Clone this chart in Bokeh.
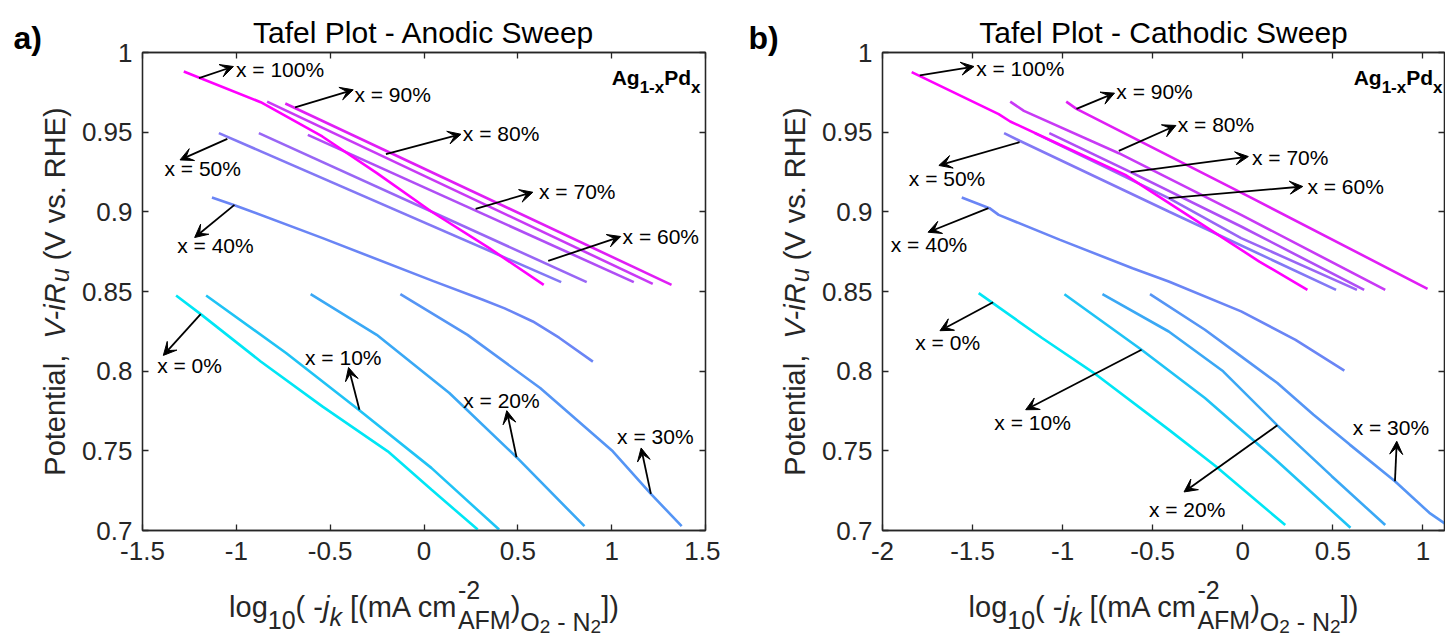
import math
from bokeh.plotting import figure
from bokeh.models import ColumnDataSource, Arrow, VeeHead, Label, LinearAxis, FixedTicker
from bokeh.layouts import row, column
from bokeh.embed import file_html
from bokeh.resources import INLINE
from bokeh.core.properties import value

# ---------------- data ----------------
compositions = ["x = 0%", "x = 10%", "x = 20%", "x = 30%", "x = 40%", "x = 50%",
                "x = 60%", "x = 70%", "x = 80%", "x = 90%", "x = 100%"]
series_colors = ["#00E6F5", "#1FC3F5", "#3AA8F5", "#5595F5", "#6A85F5", "#8378F5",
                 "#9966F5", "#B04EF5", "#C83AF5", "#E01EF5", "#FF00FF"]

y_ticks = [0.7, 0.75, 0.8, 0.85, 0.9, 0.95, 1.0]
y_tick_labels = ["0.7", "0.75", "0.8", "0.85", "0.9", "0.95", "1"]
a_x_ticks = [-1.5, -1.0, -0.5, 0.0, 0.5, 1.0, 1.5]
a_x_tick_labels = ["-1.5", "-1", "-0.5", "0", "0.5", "1", "1.5"]
b_x_ticks = [-2.0, -1.5, -1.0, -0.5, 0.0, 0.5, 1.0]
b_x_tick_labels = ["-2", "-1.5", "-1", "-0.5", "0", "0.5", "1"]

# Anodic sweep (panel a)
a00_x = [-1.321, -1.190, -0.870, -0.542, -0.193, 0.039, 0.286]
a00_y = [0.8475, 0.8358, 0.8061, 0.7779, 0.7497, 0.7257, 0.7006]
a10_x = [-1.161, -0.735, -0.348, 0.039, 0.400]
a10_y = [0.8475, 0.8114, 0.7758, 0.7393, 0.7006]
a20_x = [-0.604, -0.252, 0.135, 0.493, 0.855]
a20_y = [0.8483, 0.8228, 0.7863, 0.7460, 0.7027]
a30_x = [-0.126, 0.232, 0.619, 1.006, 1.209, 1.373]
a30_y = [0.8483, 0.8228, 0.7894, 0.7497, 0.7230, 0.7027]
a40_x = [-1.13, -1.006, -0.54, 0.05, 0.31, 0.43, 0.58, 0.72, 0.90]
a40_y = [0.909, 0.904, 0.8835, 0.8565, 0.845, 0.8394, 0.8312, 0.821, 0.806]
a50_x = [-1.093, 0.731]
a50_y = [0.9494, 0.8559]
a60_x = [-0.880, 0.867]
a60_y = [0.9494, 0.8559]
a70_x = [-0.619, 1.118]
a70_y = [0.9483, 0.8559]
a80_x = [-0.836, 1.219]
a80_y = [0.9692, 0.8548]
a90_x = [-0.739, 1.319]
a90_y = [0.9680, 0.8542]
a100_x = [-1.280, -0.870, -0.542, -0.251, 0.039, 0.348, 0.638]
a100_y = [0.9881, 0.9688, 0.9473, 0.9243, 0.9002, 0.8772, 0.8542]

# Cathodic sweep (panel b)
b00_x = [-1.466, -1.114, -0.813, -0.411, -0.150, 0.236]
b00_y = [0.849, 0.8208, 0.7978, 0.7633, 0.7403, 0.7034]
b10_x = [-0.990, -0.562, -0.210, 0.192, 0.598]
b10_y = [0.8483, 0.8134, 0.7832, 0.7435, 0.7017]
b20_x = [-0.779, -0.411, -0.109, 0.192, 0.494, 0.791]
b20_y = [0.8483, 0.8249, 0.7999, 0.7660, 0.7341, 0.7034]
b30_x = [-0.515, -0.210, -0.009, 0.192, 0.393, 0.594, 0.845, 1.036, 1.13]
b30_y = [0.8483, 0.826, 0.8093, 0.7926, 0.7727, 0.7539, 0.7309, 0.7111, 0.7038]
b40_x = [-1.560, -1.406, -1.355, -1.014, -0.612, -0.411, -0.009, 0.293, 0.564]
b40_y = [0.909, 0.9023, 0.8981, 0.8824, 0.8646, 0.8563, 0.8375, 0.8197, 0.8003]
b50_x = [-1.325, -1.239, -0.411, 0.518]
b50_y = [0.9494, 0.9446, 0.9002, 0.851]
b60_x = [-1.154, -0.752, -0.411, -0.009, 0.634]
b60_y = [0.9494, 0.9274, 0.9086, 0.8835, 0.851]
b70_x = [-1.074, -0.622, -0.009, 0.674]
b70_y = [0.9494, 0.9249, 0.8908, 0.851]
b80_x = [-1.291, -1.215, -0.688, -0.009, 0.791]
b80_y = [0.9692, 0.9634, 0.9368, 0.8981, 0.851]
b90_x = [-0.980, -0.923, 0.051, 1.026]
b90_y = [0.9692, 0.9646, 0.9086, 0.8517]
b100_x = [-1.838, -1.355, -1.291, -1.014, -0.652, -0.25, 0.092, 0.359]
b100_y = [0.9877, 0.9613, 0.9567, 0.9421, 0.9232, 0.8939, 0.8688, 0.851]

# Annotations: arrow tail (on curve) -> head, and label anchor (left, middle)
a_arrow_x0 = [-1.190, -0.344, 0.493, 1.209, -1.010, -1.048, 0.662, 0.275, -0.203, -0.687, -1.199]
a_arrow_y0 = [0.8358, 0.7758, 0.746, 0.723, 0.9044, 0.9458, 0.8692, 0.9019, 0.9362, 0.9655, 0.9839]
a_arrow_x1 = [-1.389, -0.402, 0.441, 1.157, -1.222, -1.300, 1.048, 0.580, 0.197, -0.377, -1.0155]
a_arrow_y1 = [0.8099, 0.8023, 0.7752, 0.7518, 0.8839, 0.9326, 0.8845, 0.9123, 0.9487, 0.9766, 0.9912]
a_label_x = [-1.422, -0.634, 0.209, 1.029, -1.315, -1.383, 1.058, 0.613, 0.207, -0.371, -1.002]
a_label_y = [0.8036, 0.8086, 0.7815, 0.7589, 0.8789, 0.927, 0.8845, 0.9128, 0.9494, 0.9739, 0.9891]

b_arrow_x0 = [-1.386, -0.562, 0.192, 0.845, -1.412, -1.239, -0.411, -0.622, -0.688, -0.923, -1.793]
b_arrow_y0 = [0.8433, 0.8134, 0.766, 0.7309, 0.9023, 0.9437, 0.9086, 0.9249, 0.9383, 0.9646, 0.9856]
b_arrow_x1 = [-1.681, -1.205, -0.326, 0.855, -1.747, -1.687, 0.333, 0.031, -0.371, -0.712, -1.492]
b_arrow_y1 = [0.8254, 0.7758, 0.7242, 0.756, 0.8872, 0.9291, 0.9159, 0.9347, 0.9542, 0.9745, 0.9912]
b_label_x = [-1.818, -1.379, -0.521, 0.610, -1.954, -1.854, 0.359, 0.051, -0.361, -0.702, -1.480]
b_label_y = [0.8182, 0.7675, 0.7132, 0.7644, 0.8793, 0.9207, 0.9159, 0.9341, 0.9546, 0.9755, 0.9902]

anodic_x = [a00_x, a10_x, a20_x, a30_x, a40_x, a50_x, a60_x, a70_x, a80_x, a90_x, a100_x]
anodic_y = [a00_y, a10_y, a20_y, a30_y, a40_y, a50_y, a60_y, a70_y, a80_y, a90_y, a100_y]
cathodic_x = [b00_x, b10_x, b20_x, b30_x, b40_x, b50_x, b60_x, b70_x, b80_x, b90_x, b100_x]
cathodic_y = [b00_y, b10_y, b20_y, b30_y, b40_y, b50_y, b60_y, b70_y, b80_y, b90_y, b100_y]

# ---------------- styling helpers ----------------
FONT = "Liberation Sans"
AX = "#262626"
W_REG = {' ': 278, '(': 333, ')': 333, '[': 278, ']': 278, '-': 333, 'l': 222, 'o': 556,
         'g': 556, '1': 556, '0': 556, '2': 556, 'j': 222, 'k': 500, 'm': 833, 'A': 667,
         'c': 500, 'F': 611, 'M': 833, 'O': 778, 'N': 722, 'V': 667, 'i': 222, 'R': 722,
         'u': 556, 'v': 500, 's': 500, '.': 278, 'H': 722, 'E': 667, 'P': 667, 't': 278,
         'e': 556, 'n': 556, 'a': 556, ',': 278, 'x': 500, 'd': 556}
W_BOLD = {'A': 722, 'g': 611, '1': 556, '-': 333, 'x': 556, 'P': 667, 'd': 611, 'a': 556,
          ')': 333, 'b': 611, ' ': 278}
W_PAGE, H = 1445, 636
FH = 478          # plot frame height
TOP = 52          # space above frame
BOT = 42          # space below frame inside the main figure
MAIN_H = TOP + FH + BOT
BOTTOM_H = H - MAIN_H


def tw(s, size, bold=False):
    table = W_BOLD if bold else W_REG
    return sum(table.get(ch, 556) for ch in s) * size / 1000.0


def run_width(pieces):
    return sum(tw(t, s, "bold" in st) for t, s, st, sh, adv in pieces if adv)


def make_label(p, x, y, text, size, style, color, angle=0.0, units="data"):
    p.add_layout(Label(x=x, y=y, x_units=units, y_units=units, text=text,
                       text_font=FONT, text_font_size=f"{size}px", text_color=color,
                       text_align="left", text_baseline="alphabetic", angle=angle,
                       text_font_style=style if style else "normal"))


def add_run(p, pieces, x0, y0, rotate=False, color=AX, units="data"):
    pos = 0.0
    for text, size, style, shift, adv in pieces:
        bold = "bold" in style
        lead = len(text) - len(text.lstrip(" "))
        body = text.strip(" ")
        off = pos + tw(text[:lead], size, bold)
        if body:
            if rotate:
                make_label(p, x0 - shift, y0 + off, body, size, style, color,
                           angle=math.pi / 2, units=units)
            else:
                make_label(p, x0 + off, y0 + shift, body, size, style, color, units=units)
        if adv:
            pos += tw(text, size, bold)


BASE, SUB, SUBSUB = 29, 25, 19
xlabel_pieces = [
    ("log", BASE, "", 0, True), ("10", SUB, "", -13, True), ("( -", BASE, "", 0, True),
    ("j", BASE, "italic", 0, True), ("k", SUB, "italic", -10, True),
    (" [(mA cm", BASE, "", 0, True), ("-2", SUB, "", 17, False), ("AFM", SUB, "", -13, True),
    (")", BASE, "", 0, True), ("O", SUB, "", -15, True), ("2", SUBSUB, "", -20, True),
    (" - N", SUB, "", -15, True), ("2", SUBSUB, "", -20, True), ("])", BASE, "", 0, True),
]
ylabel_pieces = [
    ("Potential,  ", BASE, "", 0, True), ("V-iR", BASE, "italic", 0, True),
    ("u", SUB, "italic", -5, True), (" (V vs. RHE)", BASE, "", 0, True),
]
alloy_pieces = [
    ("Ag", 21, "bold", 0, True), ("1-x", 17, "bold", -10, True),
    ("Pd", 21, "bold", 0, True), ("x", 17, "bold", -10, True),
]


def text_canvas(w, h):
    t = figure(width=w, height=h, x_range=(0, w), y_range=(0, h), output_backend="svg",
               toolbar_location=None, x_axis_type=None, y_axis_type=None, title=None,
               min_border=0, min_border_left=0, min_border_right=0, min_border_top=0,
               min_border_bottom=0, outline_line_color=None, background_fill_color="white",
               border_fill_color="white")
    t.grid.visible = False
    return t


def make_main(title, xr, xticks, xlabels, fw, left, right, xs, ys,
              ax0, ay0, ax1, ay1, lx, ly, alloy_pad):
    p = figure(width=left + fw + right, height=MAIN_H, x_range=xr, y_range=(0.7, 1.0),
               output_backend="svg", toolbar_location=None,
               min_border_left=left, min_border_right=right, min_border_top=TOP,
               min_border_bottom=BOT, background_fill_color="white",
               border_fill_color="white", outline_line_color=AX, outline_line_width=1.3)
    p.title.text = title
    p.title.align = "center"
    p.title.text_font = FONT
    p.title.text_font_size = "30px"
    p.title.text_font_style = "normal"
    p.title.text_color = "black"
    p.title.standoff = 7
    p.grid.visible = False
    p.xaxis.ticker = FixedTicker(ticks=xticks)
    p.xaxis.major_label_overrides = dict(zip(xticks, xlabels))
    p.yaxis.ticker = FixedTicker(ticks=y_ticks)
    p.yaxis.major_label_overrides = dict(zip(y_ticks, y_tick_labels))
    for ax in (p.xaxis[0], p.yaxis[0]):
        ax.major_tick_in = 6
        ax.major_tick_out = 0
        ax.minor_tick_line_color = None
        ax.axis_line_color = AX
        ax.axis_line_width = 1.3
        ax.major_tick_line_color = AX
        ax.major_tick_line_width = 1.3
        ax.major_label_text_font = FONT
        ax.major_label_text_font_size = "26px"
        ax.major_label_text_color = AX
    p.xaxis.major_label_standoff = 11
    p.yaxis.major_label_standoff = 10
    top = LinearAxis(ticker=FixedTicker(ticks=xticks),
                     major_label_overrides={t: "" for t in xticks})
    rgt = LinearAxis(ticker=FixedTicker(ticks=y_ticks),
                     major_label_overrides={t: "" for t in y_ticks})
    for ax in (top, rgt):
        ax.major_tick_in = 6
        ax.major_tick_out = 0
        ax.minor_tick_line_color = None
        ax.axis_line_color = AX
        ax.axis_line_width = 1.3
        ax.major_tick_line_color = AX
        ax.major_tick_line_width = 1.3
        ax.major_label_text_font_size = "0px"
        ax.major_label_standoff = 0
    p.add_layout(top, "above")
    p.add_layout(rgt, "right")

    for x, y, c in zip(xs, ys, series_colors):
        p.line(x, y, line_color=c, line_width=2.6)

    src = ColumnDataSource(dict(x0=ax0, y0=ay0, x1=ax1, y1=ay1, lx=lx, ly=ly, txt=compositions))
    p.add_layout(Arrow(end=VeeHead(size=13, fill_color="black", line_color="black", line_width=1),
                       x_start="x0", y_start="y0", x_end="x1", y_end="y1", source=src,
                       line_color="black", line_width=1.8))
    p.text(x="lx", y="ly", text="txt", source=src, text_font=value(FONT),
           text_font_size=value("21px"), text_color="black", text_align="left",
           text_baseline="middle")
    add_run(p, alloy_pieces, fw - alloy_pad - run_width(alloy_pieces), FH - 25,
            color="black", units="screen")
    return p


def make_side(letter, letter_x, side_w, ylab_x):
    side = text_canvas(side_w, MAIN_H)
    make_label(side, letter_x, MAIN_H - 37, letter, 32, "bold", "black")
    frame_mid_y = MAIN_H - TOP - FH / 2
    add_run(side, ylabel_pieces, ylab_x, frame_mid_y - run_width(ylabel_pieces) / 2, rotate=True)
    return side


# panel geometry (page pixels)
A_SIDE, A_LEFT, A_FW, A_RIGHT = 72, 70, 563, 15
B_SIDE, B_LEFT, B_FW, B_RIGHT = 92, 70, 562, 1

side_a = make_side("a)", 13, A_SIDE, 54)
main_a = make_main("Tafel Plot - Anodic Sweep", (-1.5, 1.5), a_x_ticks, a_x_tick_labels,
                   A_FW, A_LEFT, A_RIGHT, anodic_x, anodic_y, a_arrow_x0, a_arrow_y0,
                   a_arrow_x1, a_arrow_y1, a_label_x, a_label_y, 5)
side_b = make_side("b)", 28, B_SIDE, 74)
main_b = make_main("Tafel Plot - Cathodic Sweep", (-2.0, 1.12), b_x_ticks, b_x_tick_labels,
                   B_FW, B_LEFT, B_RIGHT, cathodic_x, cathodic_y, b_arrow_x0, b_arrow_y0,
                   b_arrow_x1, b_arrow_y1, b_label_x, b_label_y, 2)

bottom = text_canvas(W_PAGE, BOTTOM_H)
a_center = A_SIDE + A_LEFT + A_FW / 2
b_center = A_SIDE + A_LEFT + A_FW + A_RIGHT + B_SIDE + B_LEFT + B_FW / 2
xw = run_width(xlabel_pieces)
add_run(bottom, xlabel_pieces, a_center - xw / 2, 30)
add_run(bottom, xlabel_pieces, b_center - xw / 2, 30)

# mains are wrapped in their own columns so the text canvases keep full frames
layout = column(row(side_a, column(main_a), side_b, column(main_b)), bottom)
open("out.html", "w").write(file_html(layout, INLINE))
